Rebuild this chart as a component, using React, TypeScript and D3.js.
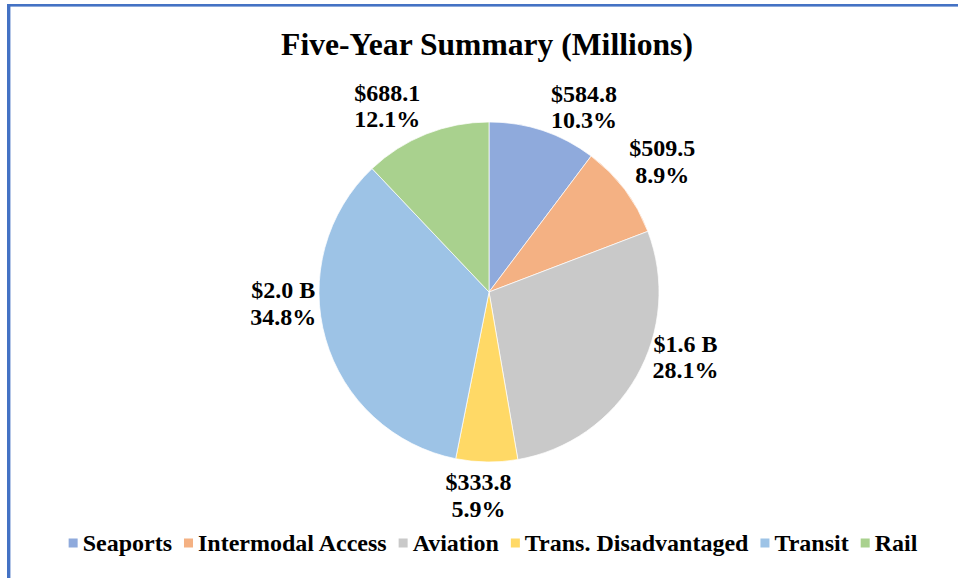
import React, { useEffect, useRef } from 'react';
import * as d3 from 'd3';

// Five-year summary, values in millions
const categories = ['Seaports', 'Intermodal Access', 'Aviation', 'Trans. Disadvantaged', 'Transit', 'Rail'];
const values = [584.8, 509.5, 1601.7, 333.8, 1983.6, 688.1];
const colors = ['#8FAADC', '#F4B183', '#C9C9C9', '#FFD966', '#9DC3E6', '#A9D18E'];

// label placement tweaks (degrees off the slice middle, distance from center)
const labelShift = [8.7, 0, -11.4, 2.2, 12.8, -7.0];
const labelDist = [208, 217, 207, 204, 206, 212];

const W = 958;
const H = 578;
const FONT = '"Liberation Serif", "Times New Roman", serif';

const fmtValue = (v: number) => (v >= 1000 ? `$${(v / 1000).toFixed(1)} B` : `$${v.toFixed(1)}`);

const App = () => {
  const svgRef = useRef<SVGSVGElement>(null);

  useEffect(() => {
    if (!svgRef.current) return;
    const svg = d3.select(svgRef.current);
    svg.selectAll('*').remove();

    // frame (only top and left edges are visible in the crop)
    svg.append('rect').attr('x', 7).attr('y', 4).attr('width', W).attr('height', 2.6).attr('fill', '#4472C4');
    svg.append('rect').attr('x', 7).attr('y', 4).attr('width', 3.4).attr('height', H).attr('fill', '#4472C4');

    svg.append('text')
      .attr('x', 487)
      .attr('y', 55)
      .attr('text-anchor', 'middle')
      .attr('font-family', FONT)
      .attr('font-weight', 'bold')
      .attr('font-size', 31.6)
      .text('Five-Year Summary (Millions)');

    const cx = 489;
    const cy = 292;
    const radius = 170;
    const total = d3.sum(values);

    const pie = d3.pie<number>().sort(null).value(d => d);
    const arcs = pie(values);
    const arc = d3.arc<d3.PieArcDatum<number>>().innerRadius(0).outerRadius(radius);

    const g = svg.append('g').attr('transform', `translate(${cx},${cy})`);

    g.selectAll('path')
      .data(arcs)
      .enter()
      .append('path')
      .attr('d', arc)
      .attr('fill', (d, i) => colors[i])
      .attr('stroke', '#ffffff')
      .attr('stroke-width', 0.7);

    // data labels: value + share, two lines
    arcs.forEach((d, i) => {
      const mid = (d.startAngle + d.endAngle) / 2 + (labelShift[i] * Math.PI) / 180;
      const lx = Math.sin(mid) * labelDist[i];
      const ly = -Math.cos(mid) * labelDist[i];
      const t = g.append('text')
        .attr('text-anchor', 'middle')
        .attr('font-family', FONT)
        .attr('font-weight', 'bold')
        .attr('font-size', 24)
        .attr('fill', '#000');
      t.append('tspan').attr('x', lx).attr('y', ly - 5.3).text(fmtValue(values[i]));
      t.append('tspan').attr('x', lx).attr('y', ly + 21.2).text(`${((values[i] / total) * 100).toFixed(1)}%`);
    });

    // legend, laid out from measured text widths and centered
    const legend = svg.append('g');
    const box = 9;
    const gapText = 5;
    const gapItem = 12;
    const items = categories.map((c, i) => {
      const item = legend.append('g');
      item.append('rect').attr('width', box).attr('height', box).attr('y', -12.5).attr('fill', colors[i]);
      const txt = item.append('text')
        .attr('x', box + gapText)
        .attr('font-family', FONT)
        .attr('font-weight', 'bold')
        .attr('font-size', 24)
        .text(c);
      const w = (txt.node() as SVGTextElement).getComputedTextLength();
      return { item, width: box + gapText + w };
    });
    const legendWidth = d3.sum(items, d => d.width) + gapItem * (items.length - 1);
    let x = 493 - legendWidth / 2;
    items.forEach(d => {
      d.item.attr('transform', `translate(${x},551)`);
      x += d.width + gapItem;
    });
  }, []);

  return (
    <svg
      ref={svgRef}
      width={W}
      height={H}
      style={{ position: 'absolute', left: 0, top: 0, background: '#fff' }}
    />
  );
};

export default App;
